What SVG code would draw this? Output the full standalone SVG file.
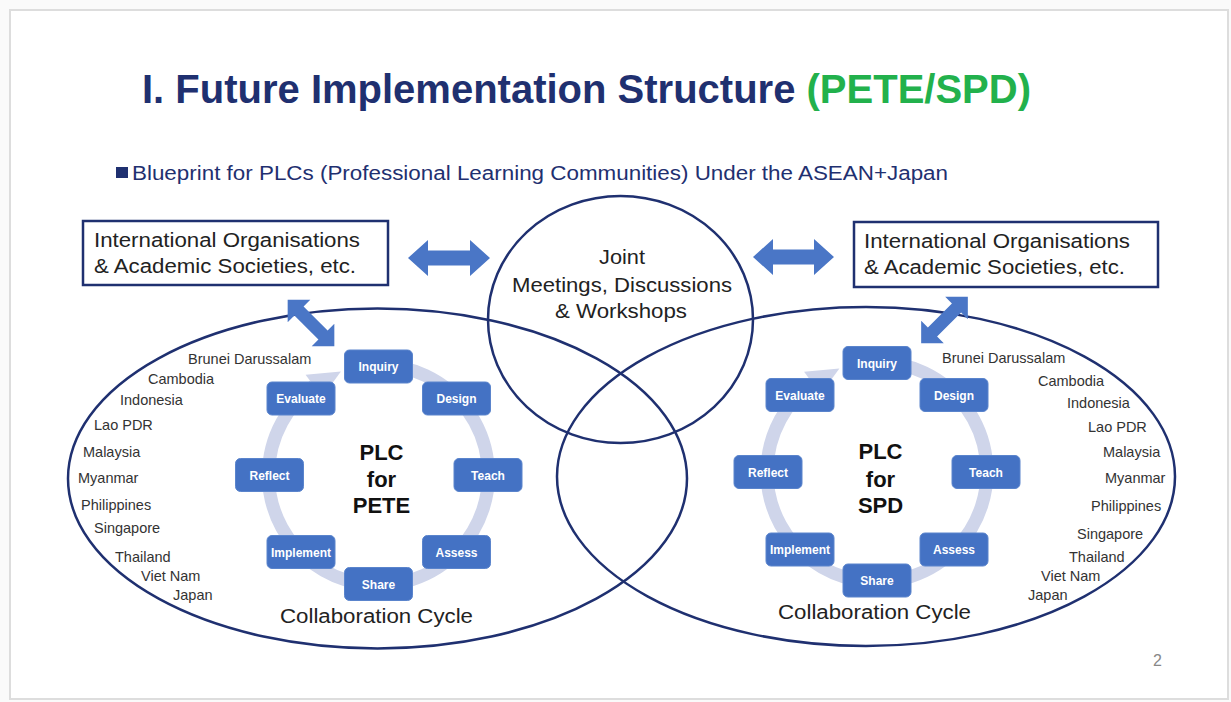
<svg xmlns="http://www.w3.org/2000/svg" width="1231" height="702" viewBox="0 0 1231 702">
<style>
.t{font-family:"Liberation Sans",Arial,sans-serif}
.box{fill:#fff;stroke:#1f3070;stroke-width:2.5}
.ring{fill:none;stroke:#cfd5ea;stroke-width:13}
.head{fill:#cfd5ea}
.nd{fill:#4472c4;stroke:#5a84cc;stroke-width:1}
.nt{font-family:"Liberation Sans",Arial,sans-serif;font-weight:bold;font-size:12px;fill:#fff;text-anchor:middle}
.ctry{font-family:"Liberation Sans",Arial,sans-serif;font-size:14.5px;fill:#333}
.line{fill:none;stroke:#1f3070;stroke-width:2.5}
.arr{fill:#4a76c6}
.plc{font-family:"Liberation Sans",Arial,sans-serif;font-weight:bold;font-size:22px;fill:#111;text-anchor:middle}
.big{font-family:"Liberation Sans",Arial,sans-serif;font-size:19.5px;fill:#222}
</style>
<rect x="0" y="0" width="1231" height="702" fill="#fafafa"/>
<rect x="10" y="10" width="1218" height="689" fill="#fff" stroke="#dddddd" stroke-width="2"/>

<g id="title">
<text class="t" x="142" y="103" font-size="40" font-weight="bold" fill="#1f3070">I. Future Implementation Structure <tspan fill="#22b14c">(PETE/SPD)</tspan></text>
</g>
<g id="subtitle">
<rect x="116" y="167" width="12" height="11" fill="#1f3070"/>
<text class="t" x="132" y="180" font-size="19.5" fill="#1f3070" textLength="816" lengthAdjust="spacingAndGlyphs">Blueprint for PLCs (Professional Learning Communities) Under the ASEAN+Japan</text>
</g>

<g id="ellipses">
<ellipse class="line" cx="377.5" cy="478.5" rx="309.5" ry="170"/>
<ellipse class="line" cx="866" cy="476.5" rx="309" ry="169.5"/>
</g>

<g id="joint">
<ellipse class="line" cx="620.5" cy="319.5" rx="132.5" ry="123.5"/>
<text class="big" x="622" y="264" text-anchor="middle" textLength="46" lengthAdjust="spacingAndGlyphs">Joint</text>
<text class="big" x="622" y="292" text-anchor="middle" textLength="220" lengthAdjust="spacingAndGlyphs">Meetings, Discussions</text>
<text class="big" x="621" y="318" text-anchor="middle" textLength="132" lengthAdjust="spacingAndGlyphs">&amp; Workshops</text>
</g>

<g id="org-left">
<rect class="box" x="83" y="221" width="305" height="64"/>
<text class="big" x="94" y="247" textLength="266" lengthAdjust="spacingAndGlyphs">International Organisations</text>
<text class="big" x="94" y="273" textLength="262" lengthAdjust="spacingAndGlyphs">&amp; Academic Societies, etc.</text>
</g>
<g id="org-right">
<rect class="box" x="854" y="222" width="304" height="65"/>
<text class="big" x="864" y="248" textLength="266" lengthAdjust="spacingAndGlyphs">International Organisations</text>
<text class="big" x="864" y="274" textLength="261" lengthAdjust="spacingAndGlyphs">&amp; Academic Societies, etc.</text>
</g>

<g id="connectors">
<path class="arr" d="M408,258 L428,240 L428,250.5 L470,250.5 L470,240 L490,258 L470,276 L470,265.5 L428,265.5 L428,276 Z"/>
<path class="arr" d="M753,257 L773,239 L773,249.5 L814,249.5 L814,239 L834,257 L814,275 L814,264.5 L773,264.5 L773,275 Z"/>
<path class="arr" transform="translate(311,323) rotate(45)" d="M-33,0 L-17,-16 L-17,-6.5 L17,-6.5 L17,-16 L33,0 L17,16 L17,6.5 L-17,6.5 L-17,16 Z"/>
<path class="arr" transform="translate(944.5,320) rotate(-45)" d="M-33,0 L-17,-16 L-17,-6.5 L17,-6.5 L17,-16 L33,0 L17,16 L17,6.5 L-17,6.5 L-17,16 Z"/>
</g>

<g id="cycle-pete">
<path class="ring" d="M378.5,365 A110,110 0 1 1 313.8,386"/>
<path class="head" d="M305.6,374.7 L340.9,371.6 L322.1,397.3 Z"/>
<text class="plc" x="381.5" y="460">PLC</text>
<text class="plc" x="381.5" y="487">for</text>
<text class="plc" x="381.5" y="513">PETE</text>
<text class="big" x="376.5" y="623" font-size="21" text-anchor="middle" textLength="193" lengthAdjust="spacingAndGlyphs">Collaboration Cycle</text>
</g>
<g id="pete-inquiry"><rect class="nd" x="344.5" y="350" width="68" height="33" rx="5"/><text class="nt" x="378.5" y="371">Inquiry</text></g>
<g id="pete-design"><rect class="nd" x="422.5" y="382" width="68" height="33" rx="5"/><text class="nt" x="456.5" y="403">Design</text></g>
<g id="pete-teach"><rect class="nd" x="454" y="458.5" width="68" height="33" rx="5"/><text class="nt" x="488" y="479.5">Teach</text></g>
<g id="pete-assess"><rect class="nd" x="422.5" y="535.5" width="68" height="33" rx="5"/><text class="nt" x="456.5" y="556.5">Assess</text></g>
<g id="pete-share"><rect class="nd" x="344.5" y="567.5" width="68" height="33" rx="5"/><text class="nt" x="378.5" y="588.5">Share</text></g>
<g id="pete-implement"><rect class="nd" x="267" y="535.5" width="68" height="33" rx="5"/><text class="nt" x="301" y="556.5">Implement</text></g>
<g id="pete-reflect"><rect class="nd" x="235.5" y="458.5" width="68" height="33" rx="5"/><text class="nt" x="269.5" y="479.5">Reflect</text></g>
<g id="pete-evaluate"><rect class="nd" x="267" y="382" width="68" height="33" rx="5"/><text class="nt" x="301" y="403">Evaluate</text></g>

<g id="cycle-spd">
<path class="ring" d="M877,362 A110,110 0 1 1 812.3,383"/>
<path class="head" d="M804.1,371.7 L839.4,368.6 L820.6,394.3 Z"/>
<text class="plc" x="880.5" y="459">PLC</text>
<text class="plc" x="880.5" y="487">for</text>
<text class="plc" x="880.5" y="513">SPD</text>
<text class="big" x="874.5" y="619" font-size="21" text-anchor="middle" textLength="193" lengthAdjust="spacingAndGlyphs">Collaboration Cycle</text>
</g>
<g id="spd-inquiry"><rect class="nd" x="843" y="346.5" width="68" height="33" rx="5"/><text class="nt" x="877" y="367.5">Inquiry</text></g>
<g id="spd-design"><rect class="nd" x="920" y="378.5" width="68" height="33" rx="5"/><text class="nt" x="954" y="399.5">Design</text></g>
<g id="spd-teach"><rect class="nd" x="952" y="455.5" width="68" height="33" rx="5"/><text class="nt" x="986" y="476.5">Teach</text></g>
<g id="spd-assess"><rect class="nd" x="920" y="533" width="68" height="33" rx="5"/><text class="nt" x="954" y="554">Assess</text></g>
<g id="spd-share"><rect class="nd" x="843" y="564" width="68" height="33" rx="5"/><text class="nt" x="877" y="585">Share</text></g>
<g id="spd-implement"><rect class="nd" x="766" y="533" width="68" height="33" rx="5"/><text class="nt" x="800" y="554">Implement</text></g>
<g id="spd-reflect"><rect class="nd" x="734" y="455.5" width="68" height="33" rx="5"/><text class="nt" x="768" y="476.5">Reflect</text></g>
<g id="spd-evaluate"><rect class="nd" x="766" y="378.5" width="68" height="33" rx="5"/><text class="nt" x="800" y="399.5">Evaluate</text></g>

<g id="countries-left">
<text class="ctry" x="188" y="364">Brunei Darussalam</text>
<text class="ctry" x="148" y="384">Cambodia</text>
<text class="ctry" x="120" y="405">Indonesia</text>
<text class="ctry" x="94" y="430">Lao PDR</text>
<text class="ctry" x="83" y="457">Malaysia</text>
<text class="ctry" x="78" y="483">Myanmar</text>
<text class="ctry" x="81" y="510">Philippines</text>
<text class="ctry" x="94" y="533">Singapore</text>
<text class="ctry" x="115" y="562">Thailand</text>
<text class="ctry" x="141" y="581">Viet Nam</text>
<text class="ctry" x="173" y="600">Japan</text>
</g>
<g id="countries-right">
<text class="ctry" x="942" y="363">Brunei Darussalam</text>
<text class="ctry" x="1038" y="386">Cambodia</text>
<text class="ctry" x="1067" y="408">Indonesia</text>
<text class="ctry" x="1088" y="432">Lao PDR</text>
<text class="ctry" x="1103" y="457">Malaysia</text>
<text class="ctry" x="1105" y="483">Myanmar</text>
<text class="ctry" x="1091" y="511">Philippines</text>
<text class="ctry" x="1077" y="539">Singapore</text>
<text class="ctry" x="1069" y="562">Thailand</text>
<text class="ctry" x="1041" y="581">Viet Nam</text>
<text class="ctry" x="1028" y="600">Japan</text>
</g>
<g id="page-number">
<text class="t" x="1153" y="666" font-size="16" fill="#888">2</text>
</g>
</svg>
